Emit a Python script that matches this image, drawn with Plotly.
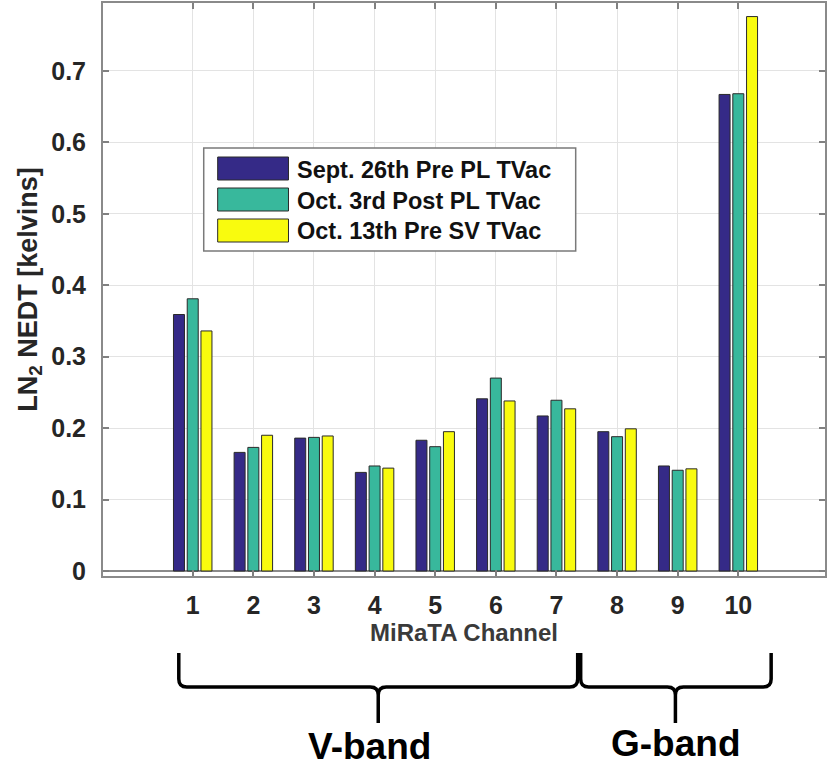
import plotly.graph_objects as go

channels = [1, 2, 3, 4, 5, 6, 7, 8, 9, 10]
series_names = ["Sept. 26th Pre PL TVac", "Oct. 3rd Post PL TVac", "Oct. 13th Pre SV TVac"]
sept26 = [0.359, 0.166, 0.186, 0.138, 0.183, 0.241, 0.217, 0.195, 0.147, 0.667]
oct3 = [0.381, 0.173, 0.187, 0.147, 0.174, 0.270, 0.239, 0.188, 0.141, 0.668]
oct13 = [0.336, 0.190, 0.189, 0.144, 0.195, 0.238, 0.227, 0.199, 0.143, 0.776]
y_ticks = [0, 0.1, 0.2, 0.3, 0.4, 0.5, 0.6, 0.7]
y_tick_labels = ["0", "0.1", "0.2", "0.3", "0.4", "0.5", "0.6", "0.7"]
band_labels = ["V-band", "G-band"]

colors = ["#352a87", "#38b89c", "#f9fb0e"]
FONT = "Liberation Sans, Arial, sans-serif"
W, H = 828, 767
ML, MR, MT, MB = 103, 1, 3, 191
PW, PH = W - ML - MR, H - MT - MB


def px(x):
    return (x - ML) / PW


def py(y):
    return (H - MB - y) / PH


fig = go.Figure()
for name, vals, col in zip(series_names, [sept26, oct3, oct13], colors):
    fig.add_trace(go.Bar(
        x=channels, y=vals, name=name,
        marker=dict(color=col, line=dict(color="#2a2a2a", width=1)),
        showlegend=False,
    ))

shapes = []
annotations = []

# custom legend (large swatches as in the reference)
shapes.append(dict(type="rect", xref="paper", yref="paper",
                   x0=px(204), x1=px(577), y0=py(251), y1=py(148),
                   line=dict(color="#7a7a7a", width=1.5), fillcolor="white", layer="above"))
rows = [(157, 180), (188, 211), (219, 242)]
for (t, b), name, col in zip(rows, series_names, colors):
    shapes.append(dict(type="rect", xref="paper", yref="paper",
                       x0=px(218), x1=px(289), y0=py(b), y1=py(t),
                       line=dict(color="#2a2a2a", width=1), fillcolor=col, layer="above"))
    annotations.append(dict(xref="paper", yref="paper", x=px(296), y=py((t + b) / 2 + 1),
                            text="<b>" + name + "</b>", showarrow=False, xanchor="left", yanchor="middle",
                            font=dict(family=FONT, size=23.5, color="#111111")))


# braces below the axis
def brace(x0, xt, x1, ytop=653, yh=687, ybot=723, r=8):
    X = px
    Y = py
    d = (f"M {X(x0)},{Y(ytop)} L {X(x0)},{Y(yh - r)} Q {X(x0)},{Y(yh)} {X(x0 + r)},{Y(yh)} "
         f"L {X(xt - r)},{Y(yh)} Q {X(xt)},{Y(yh)} {X(xt)},{Y(yh + r)} L {X(xt)},{Y(ybot)} "
         f"M {X(xt)},{Y(yh + r)} Q {X(xt)},{Y(yh)} {X(xt + r)},{Y(yh)} "
         f"L {X(x1 - r)},{Y(yh)} Q {X(x1)},{Y(yh)} {X(x1)},{Y(yh - r)} L {X(x1)},{Y(ytop)}")
    return dict(type="path", xref="paper", yref="paper", path=d,
                line=dict(color="black", width=3.5), layer="above")


shapes.append(brace(179, 379, 579))
shapes.append(brace(582, 677, 773))
annotations.append(dict(xref="paper", yref="paper", x=px(370), y=py(746), text="<b>" + band_labels[0] + "</b>",
                        showarrow=False, xanchor="center", yanchor="middle",
                        font=dict(family=FONT, size=37, color="black")))
annotations.append(dict(xref="paper", yref="paper", x=px(677), y=py(744), text="<b>" + band_labels[1] + "</b>",
                        showarrow=False, xanchor="center", yanchor="middle",
                        font=dict(family=FONT, size=37, color="black")))

fig.update_layout(
    width=W, height=H,
    margin=dict(l=ML, r=MR, t=MT, b=MB),
    paper_bgcolor="white", plot_bgcolor="white",
    barmode="group", bargap=0.32, bargroupgap=0.2,
    font=dict(family=FONT, color="#262626"),
    shapes=shapes, annotations=annotations,
    showlegend=False,
)
fig.update_xaxes(
    range=[-0.48, 11.43], tickvals=channels, ticktext=[f"<b>{c}</b>" for c in channels],
    tickfont=dict(family=FONT, size=25, color="#262626"),
    showgrid=True, gridcolor="#e3e3e3", gridwidth=1,
    ticks="inside", ticklen=6, tickcolor="#808080", tickwidth=1.5,
    showline=True, linecolor="#8a8a8a", linewidth=2, mirror="ticks",
    zeroline=False, ticklabelstandoff=6,
    title=dict(text="<b>MiRaTA Channel</b>", font=dict(family=FONT, size=24, color="#3a3a3a"), standoff=4),
)
fig.update_yaxes(
    range=[-0.007, 0.795], tickvals=y_ticks, ticktext=[f"<b>{t}</b>" for t in y_tick_labels],
    tickfont=dict(family=FONT, size=25, color="#262626"),
    showgrid=True, gridcolor="#e3e3e3", gridwidth=1,
    ticks="inside", ticklen=6, tickcolor="#808080", tickwidth=1.5,
    showline=True, linecolor="#8a8a8a", linewidth=2, mirror="ticks",
    zeroline=True, zerolinecolor="#8a8a8a", zerolinewidth=2,
    ticklabelstandoff=10,
    title=dict(text="<b>LN<sub>2</sub> NEDT [kelvins]</b>", font=dict(family=FONT, size=27, color="#262626"), standoff=6),
)

fig.write_html("out.html", config={"displayModeBar": False},
               post_script="document.body.style.margin='0';document.body.style.overflow='hidden';")
